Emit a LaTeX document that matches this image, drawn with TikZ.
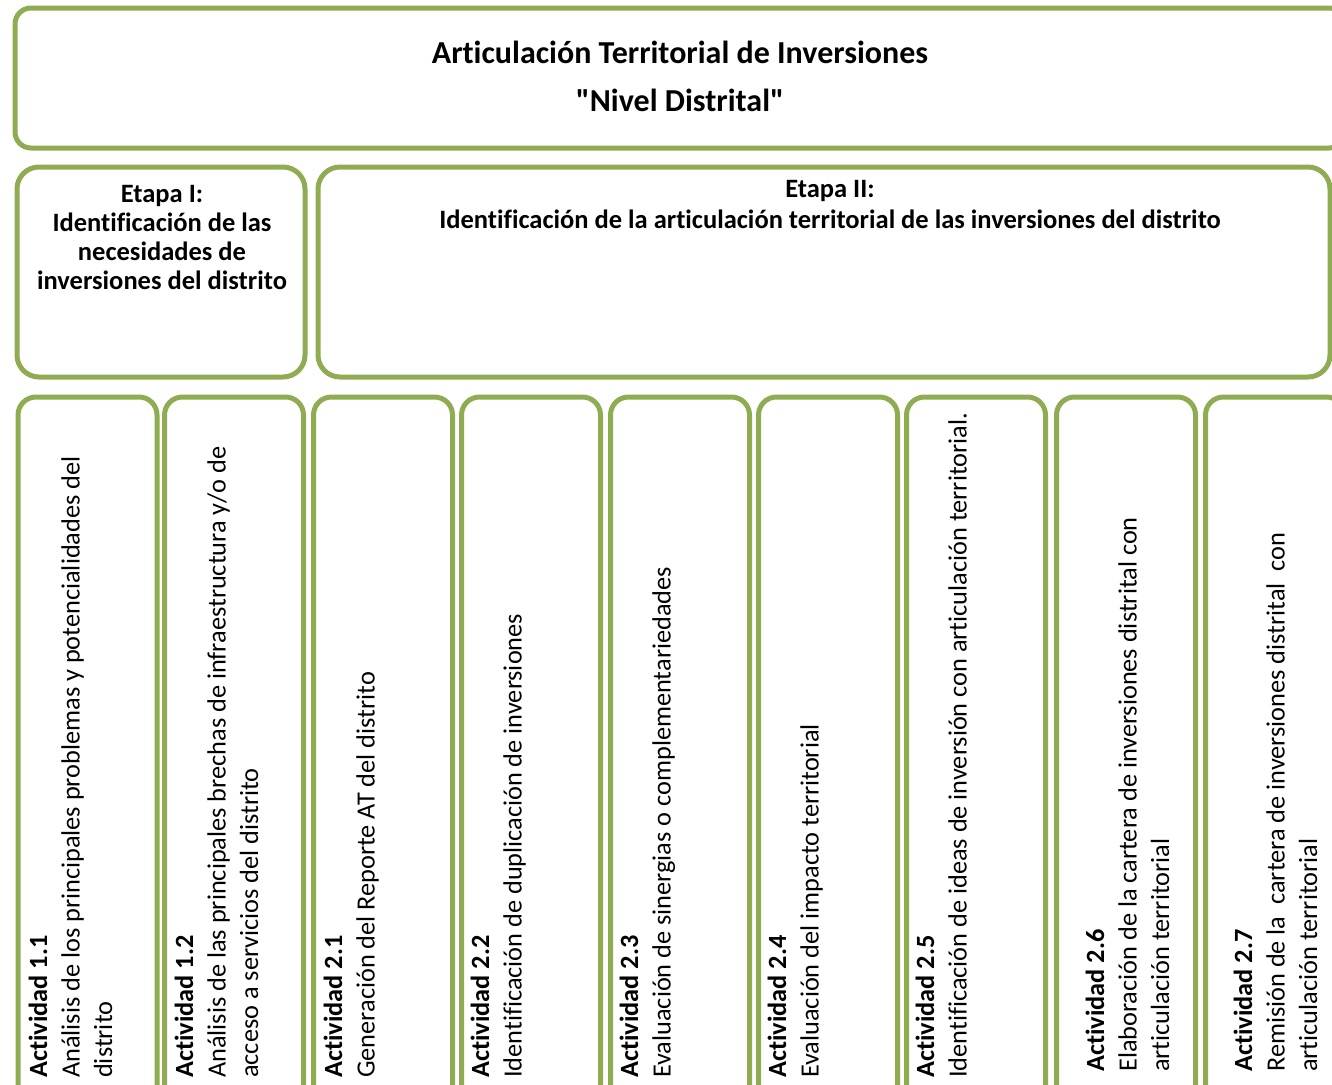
\documentclass[tikz,border=0pt]{standalone}
\usepackage{fontspec}
\setmainfont{Carlito}[Ligatures={TeXOff,NoCommon}]
\definecolor{verde}{HTML}{8FAC52}
\tikzset{
  caja/.style={draw=verde, line width=5pt, rounded corners=18pt, inner sep=0pt},
  acttext/.style={rotate=90, anchor=north west, align=left, inner sep=0pt,
    font=\fontsize{26.3}{32.5}\selectfont},
}
\begin{document}
\begin{tikzpicture}[x=1pt,y=-1pt]
\useasboundingbox (0,0) rectangle (1332,1084);
\clip (0,0) rectangle (1332,1084);

\node[caja, rounded corners=16pt, minimum width=1330pt, minimum height=140pt] (T) at (680,78) {};
\node[font=\fontsize{32}{36}\selectfont\bfseries, anchor=base] (T1) at (680,63) {Articulación Territorial de Inversiones};
\node[font=\fontsize{32}{36}\selectfont\bfseries, anchor=base] (T2) at (680,111) {"Nivel Distrital"};

\node[caja, rounded corners=22pt, minimum width=288pt, minimum height=210pt] (E1) at (161,272) {};
\node[caja, rounded corners=22pt, minimum width=1012pt, minimum height=210pt] (E2) at (824,272) {};
\node[font=\fontsize{26.5}{29}\selectfont\bfseries, align=center, anchor=north, inner sep=0pt] (E1t) at (162,185)
  {Etapa I:\\Identificación de las\\necesidades de\\inversiones del distrito};
\node[font=\fontsize{26.5}{31}\selectfont\bfseries, align=center, anchor=north, inner sep=0pt] (E2t) at (830,180)
  {Etapa II:\\Identificación de la articulación territorial de las inversiones del distrito};

\node[caja, minimum width=139pt, minimum height=712pt] (A11) at (87.5,753) {};
\node[caja, minimum width=139pt, minimum height=712pt] (A12) at (234,753) {};
\node[caja, minimum width=139pt, minimum height=712pt] (A21) at (383,753) {};
\node[caja, minimum width=139pt, minimum height=712pt] (A22) at (531,753) {};
\node[caja, minimum width=139pt, minimum height=712pt] (A23) at (680,753) {};
\node[caja, minimum width=139pt, minimum height=712pt] (A24) at (828,753) {};
\node[caja, minimum width=139pt, minimum height=712pt] (A25) at (976,753) {};
\node[caja, minimum width=139pt, minimum height=712pt] (A26) at (1126,753) {};
\node[caja, minimum width=139pt, minimum height=712pt] (A27) at (1275,753) {};

\node[acttext] (A11t) at (28.5,1078) {\textbf{Actividad 1.1}\\Análisis de los principales problemas y potencialidades del\\distrito};
\node[acttext] (A12t) at (174.5,1078) {\textbf{Actividad 1.2}\\Análisis de las principales brechas de infraestructura y/o de\\acceso a servicios del distrito};
\node[acttext] (A21t) at (323.5,1078) {\textbf{Actividad 2.1}\\Generación del Reporte AT del distrito};
\node[acttext] (A22t) at (470.5,1078) {\textbf{Actividad 2.2}\\Identificación de duplicación de inversiones};
\node[acttext] (A23t) at (619.5,1078) {\textbf{Actividad 2.3}\\Evaluación de sinergias o complementariedades};
\node[acttext] (A24t) at (767.5,1078) {\textbf{Actividad 2.4}\\Evaluación del impacto territorial};
\node[acttext] (A25t) at (915.5,1078) {\textbf{Actividad 2.5}\\Identificación de ideas de inversión con articulación territorial.};
\node[acttext] (A26t) at (1085.5,1072) {\textbf{Actividad 2.6}\\Elaboración de la cartera de inversiones distrital con\\articulación territorial};
\node[acttext] (A27t) at (1233.5,1072) {\textbf{Actividad 2.7}\\Remisión de la\ \ cartera de inversiones distrital\ \ con\\articulación territorial};
\end{tikzpicture}
\end{document}
